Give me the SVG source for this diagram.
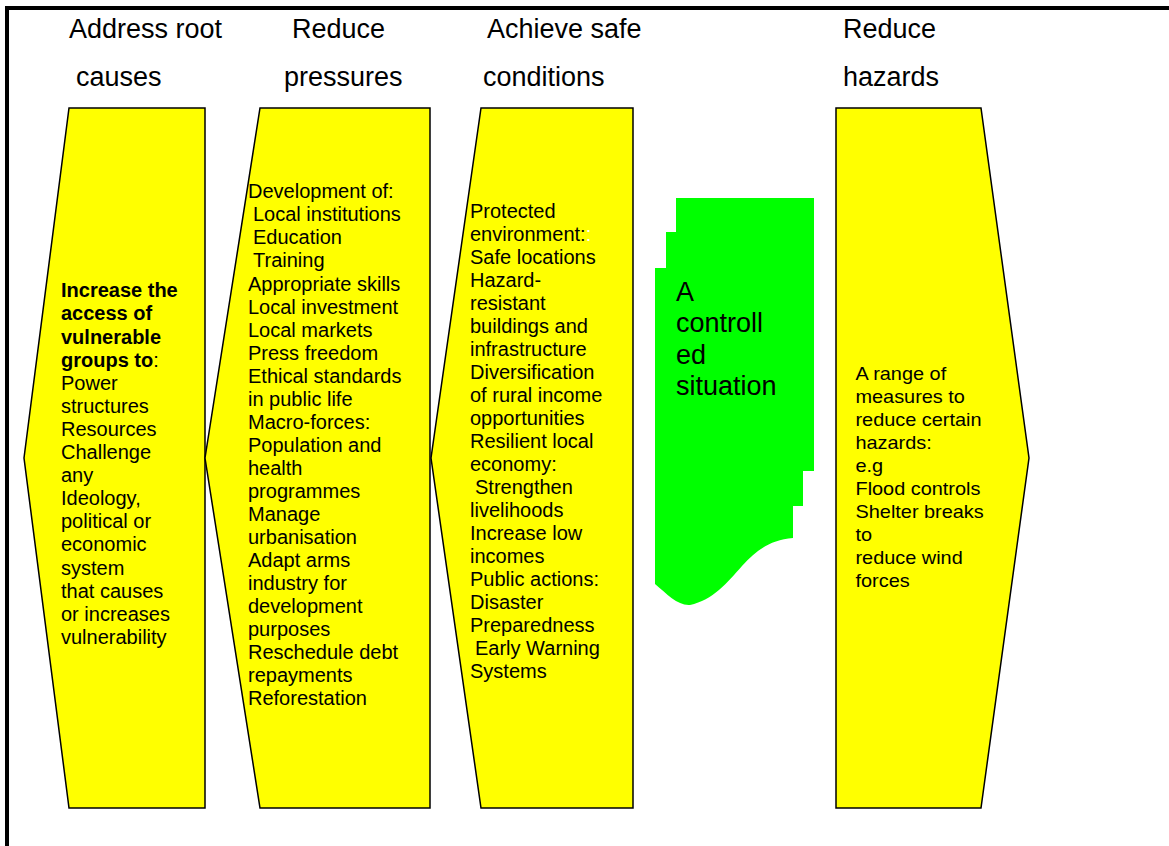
<svg xmlns="http://www.w3.org/2000/svg" width="1169" height="846" viewBox="0 0 1169 846">
  <style>
    .hdr { font-family: "Liberation Sans", Arial, sans-serif; font-size: 27px; fill: #000; }
    .body { font-family: "Liberation Sans", Arial, sans-serif; font-size: 20px; fill: #000; }
    .b { font-weight: bold; }
    .arrow { fill: #FFFF00; stroke: #000; stroke-width: 1.5; stroke-linejoin: miter; }
    .green { fill: #00FF00; stroke: none; }
    .frame { fill: none; stroke: #000; stroke-width: 4; }
  </style>
  <rect width="1169" height="846" fill="#fff"/>
  <rect class="frame" x="7" y="8" width="1200" height="900"/>

  <g id="headers">
    <text class="hdr" x="69" y="38">Address root</text>
    <text class="hdr" x="76" y="86">causes</text>
    <text class="hdr" x="292" y="38">Reduce</text>
    <text class="hdr" x="284" y="86">pressures</text>
    <text class="hdr" x="487" y="38">Achieve safe</text>
    <text class="hdr" x="483" y="86">conditions</text>
    <text class="hdr" x="843" y="38">Reduce</text>
    <text class="hdr" x="843" y="86">hazards</text>
  </g>

  <g id="node-root-causes">
    <polygon class="arrow" points="69,108 205,108 205,808 69,808 24,458"/>
    <text class="body">
      <tspan class="b" x="61" y="297.3">Increase the</tspan>
      <tspan class="b" x="61" dy="23.1">access of</tspan>
      <tspan class="b" x="61" dy="23.1">vulnerable</tspan>
      <tspan x="61" dy="23.1"><tspan class="b">groups to</tspan>:</tspan>
      <tspan x="61" dy="23.1">Power</tspan>
      <tspan x="61" dy="23.1">structures</tspan>
      <tspan x="61" dy="23.1">Resources</tspan>
      <tspan x="61" dy="23.1">Challenge</tspan>
      <tspan x="61" dy="23.1">any</tspan>
      <tspan x="61" dy="23.1">Ideology,</tspan>
      <tspan x="61" dy="23.1">political or</tspan>
      <tspan x="61" dy="23.1">economic</tspan>
      <tspan x="61" dy="23.1">system</tspan>
      <tspan x="61" dy="23.1">that causes</tspan>
      <tspan x="61" dy="23.1">or increases</tspan>
      <tspan x="61" dy="23.1">vulnerability</tspan>
    </text>
  </g>

  <g id="node-pressures">
    <polygon class="arrow" points="260,108 430,108 430,808 260,808 205,458"/>
    <text class="body">
      <tspan x="248" y="198.3">Development of:</tspan>
      <tspan x="253" dy="23.05">Local institutions</tspan>
      <tspan x="253" dy="23.05">Education</tspan>
      <tspan x="253" dy="23.05">Training</tspan>
      <tspan x="248" dy="23.05">Appropriate skills</tspan>
      <tspan x="248" dy="23.05">Local investment</tspan>
      <tspan x="248" dy="23.05">Local markets</tspan>
      <tspan x="248" dy="23.05">Press freedom</tspan>
      <tspan x="248" dy="23.05">Ethical standards</tspan>
      <tspan x="248" dy="23.05">in public life</tspan>
      <tspan x="248" dy="23.05">Macro-forces:</tspan>
      <tspan x="248" dy="23.05">Population and</tspan>
      <tspan x="248" dy="23.05">health</tspan>
      <tspan x="248" dy="23.05">programmes</tspan>
      <tspan x="248" dy="23.05">Manage</tspan>
      <tspan x="248" dy="23.05">urbanisation</tspan>
      <tspan x="248" dy="23.05">Adapt arms</tspan>
      <tspan x="248" dy="23.05">industry for</tspan>
      <tspan x="248" dy="23.05">development</tspan>
      <tspan x="248" dy="23.05">purposes</tspan>
      <tspan x="248" dy="23.05">Reschedule debt</tspan>
      <tspan x="248" dy="23.05">repayments</tspan>
      <tspan x="248" dy="23.05">Reforestation</tspan>
    </text>
  </g>

  <g id="node-safe-conditions">
    <polygon class="arrow" points="481,108 633,108 633,808 481,808 431,458"/>
    <text class="body">
      <tspan x="470" y="218.3">Protected</tspan>
      <tspan x="470" dy="23">environment:<tspan fill="#ffffff">:</tspan></tspan>
      <tspan x="470" dy="23">Safe locations</tspan>
      <tspan x="470" dy="23">Hazard-</tspan>
      <tspan x="470" dy="23">resistant</tspan>
      <tspan x="470" dy="23">buildings and</tspan>
      <tspan x="470" dy="23">infrastructure</tspan>
      <tspan x="470" dy="23">Diversification</tspan>
      <tspan x="470" dy="23">of rural income</tspan>
      <tspan x="470" dy="23">opportunities</tspan>
      <tspan x="470" dy="23">Resilient local</tspan>
      <tspan x="470" dy="23">economy:</tspan>
      <tspan x="475" dy="23">Strengthen</tspan>
      <tspan x="470" dy="23">livelihoods</tspan>
      <tspan x="470" dy="23">Increase low</tspan>
      <tspan x="470" dy="23">incomes</tspan>
      <tspan x="470" dy="23">Public actions:</tspan>
      <tspan x="470" dy="23">Disaster</tspan>
      <tspan x="470" dy="23">Preparedness</tspan>
      <tspan x="475" dy="23">Early Warning</tspan>
      <tspan x="470" dy="23">Systems</tspan>
    </text>
  </g>

  <g id="node-controlled-situation">
    <path class="green" d="M676,198 H814 V471 H803 V506 H793 V538 C770,540 757,550 742,566 C727,583 713,600 690,605 C678,606 667,594 655,584 V268 H666 V232 H676 Z"/>
    <text class="hdr">
      <tspan x="676" y="300.7">A</tspan>
      <tspan x="676" dy="31.5">controll</tspan>
      <tspan x="676" dy="31.5">ed</tspan>
      <tspan x="676" dy="31.5">situation</tspan>
    </text>
  </g>

  <g id="node-hazards">
    <polygon class="arrow" points="836,108 981,108 1029,458 981,808 836,808"/>
    <g transform="translate(855.5,0) scale(1.07,1) translate(-855.5,0)">
      <text class="body" style="font-size:18.6px">
        <tspan x="855.5" y="380">A range of</tspan>
        <tspan x="855.5" dy="23">measures to</tspan>
        <tspan x="855.5" dy="23">reduce certain</tspan>
        <tspan x="855.5" dy="23">hazards:</tspan>
        <tspan x="855.5" dy="23">e.g</tspan>
        <tspan x="855.5" dy="23">Flood controls</tspan>
        <tspan x="855.5" dy="23">Shelter breaks</tspan>
        <tspan x="855.5" dy="23">to</tspan>
        <tspan x="855.5" dy="23">reduce wind</tspan>
        <tspan x="855.5" dy="23">forces</tspan>
      </text>
    </g>
  </g>

  <g id="connectors"/>
</svg>
